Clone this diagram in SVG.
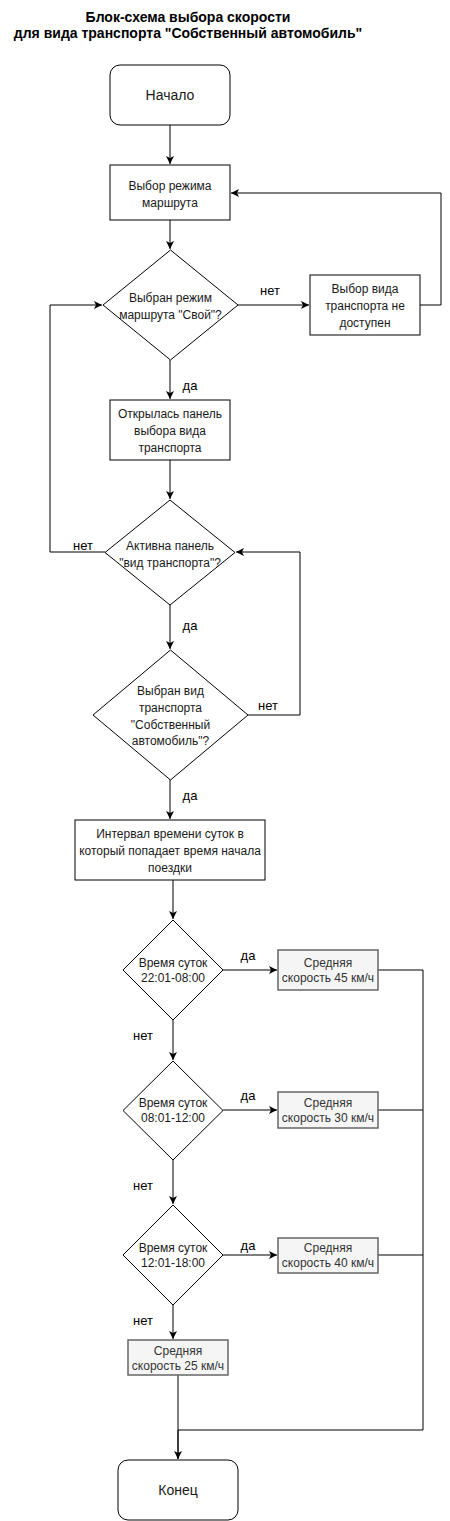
<svg xmlns="http://www.w3.org/2000/svg" width="450" height="1521" viewBox="0 0 450 1521">
<style>
.n{fill:#fff;stroke:#000;stroke-width:1}
.g{fill:#f5f5f5;stroke:#666;stroke-width:1.5}
.t{font-family:"Liberation Sans",Arial,sans-serif;font-size:12px;fill:#1a1a1a;text-anchor:middle}
.tg{font-family:"Liberation Sans",Arial,sans-serif;font-size:12px;fill:#333;text-anchor:middle}
.big{font-family:"Liberation Sans",Arial,sans-serif;font-size:14px;fill:#1a1a1a;text-anchor:middle}
.lb{font-family:"Liberation Sans",Arial,sans-serif;font-size:13px;fill:#000;text-anchor:middle}
.title{font-family:"Liberation Sans",Arial,sans-serif;font-size:14px;font-weight:bold;fill:#000;text-anchor:middle}
.c{fill:none;stroke:#000;stroke-width:1}
</style>
<defs>
<marker id="a" markerWidth="10" markerHeight="10" refX="8" refY="4" orient="auto" markerUnits="userSpaceOnUse">
<path d="M0,0 L8,4 L0,8 L2,4 Z" fill="#000"/>
</marker>
</defs>
<g id="title">
<text class="title" x="188" y="22">Блок-схема выбора скорости</text>
<text class="title" x="188" y="38">для вида транспорта "Собственный автомобиль"</text>
</g>
<g id="connectors">
<path class="c" d="M170,125 V164" marker-end="url(#a)"/>
<path class="c" d="M170,220 V249" marker-end="url(#a)"/>
<path class="c" d="M238,305 H309" marker-end="url(#a)"/>
<path class="c" d="M420,305 H441 V193 H231" marker-end="url(#a)"/>
<path class="c" d="M170,360 V399" marker-end="url(#a)"/>
<path class="c" d="M170,460 V499" marker-end="url(#a)"/>
<path class="c" d="M105,552 H50 V305 H102" marker-end="url(#a)"/>
<path class="c" d="M170,605 V649" marker-end="url(#a)"/>
<path class="c" d="M248,715 H300 V552 H236" marker-end="url(#a)"/>
<path class="c" d="M170,779 V819" marker-end="url(#a)"/>
<path class="c" d="M173,880 V919" marker-end="url(#a)"/>
<path class="c" d="M223,970 H277" marker-end="url(#a)"/>
<path class="c" d="M173,1020 V1060" marker-end="url(#a)"/>
<path class="c" d="M223,1110 H277" marker-end="url(#a)"/>
<path class="c" d="M173,1160 V1204" marker-end="url(#a)"/>
<path class="c" d="M223,1255 H277" marker-end="url(#a)"/>
<path class="c" d="M173,1305 V1339" marker-end="url(#a)"/>
<path class="c" d="M378,970 H423 V1430 H178"/>
<path class="c" d="M378,1110 H423"/>
<path class="c" d="M378,1255 H423"/>
<path class="c" d="M178,1375 V1459" marker-end="url(#a)"/>
<path class="c" d="M178,1430 V1459" stroke-width="1.5"/>
<text class="lb" x="270" y="295">нет</text>
<text class="lb" x="190" y="390">да</text>
<text class="lb" x="83" y="550">нет</text>
<text class="lb" x="190" y="630">да</text>
<text class="lb" x="268" y="710">нет</text>
<text class="lb" x="190" y="800">да</text>
<text class="lb" x="248" y="960">да</text>
<text class="lb" x="143" y="1040">нет</text>
<text class="lb" x="248" y="1100">да</text>
<text class="lb" x="143" y="1190">нет</text>
<text class="lb" x="248" y="1250">да</text>
<text class="lb" x="143" y="1325">нет</text>
</g>
<g id="start">
<rect class="n" x="110" y="65" width="120" height="60" rx="10"/>
<text class="big" x="170" y="100">Начало</text>
</g>
<g id="mode">
<rect class="n" x="110" y="165" width="120" height="55"/>
<text class="t" x="170" y="190">Выбор режима</text>
<text class="t" x="170" y="207">маршрута</text>
</g>
<g id="d1">
<polygon class="n" points="170.5,250 238,305 170.5,360 103,305"/>
<text class="t" x="170.5" y="302">Выбран режим</text>
<text class="t" x="170.5" y="319">маршрута "Свой"?</text>
</g>
<g id="na">
<rect class="n" x="310" y="275" width="110" height="60"/>
<text class="t" x="365" y="293">Выбор вида</text>
<text class="t" x="365" y="310">транспорта не</text>
<text class="t" x="365" y="327">доступен</text>
</g>
<g id="panel">
<rect class="n" x="110" y="400" width="120" height="60"/>
<text class="t" x="170" y="418">Открылась панель</text>
<text class="t" x="170" y="435">выбора вида</text>
<text class="t" x="170" y="452">транспорта</text>
</g>
<g id="d2">
<polygon class="n" points="170,500 235,552.5 170,605 105,552.5"/>
<text class="t" x="170" y="550">Активна панель</text>
<text class="t" x="170" y="567">"вид транспорта"?</text>
</g>
<g id="d3">
<polygon class="n" points="170.5,650 248,715 170.5,780 93,715"/>
<text class="t" x="170.5" y="695">Выбран вид</text>
<text class="t" x="170.5" y="712">транспорта</text>
<text class="t" x="170.5" y="729">"Собственный</text>
<text class="t" x="170.5" y="745">автомобиль"?</text>
</g>
<g id="interval">
<rect class="n" x="75" y="820" width="190" height="60"/>
<text class="t" x="170" y="838">Интервал времени суток в</text>
<text class="t" x="170" y="855">который попадает время начала</text>
<text class="t" x="170" y="872">поездки</text>
</g>
<g id="d4">
<polygon class="n" points="173,920 223,970 173,1020 123,970"/>
<text class="t" x="173" y="967">Время суток</text>
<text class="t" x="173" y="982">22:01-08:00</text>
</g>
<g id="s45">
<rect class="g" x="278" y="950" width="100" height="40"/>
<text class="tg" x="328" y="967">Средняя</text>
<text class="tg" x="328" y="982">скорость 45 км/ч</text>
</g>
<g id="d5">
<polygon class="n" points="173,1061 223,1110.5 173,1160 123,1110.5"/>
<text class="t" x="173" y="1107">Время суток</text>
<text class="t" x="173" y="1122">08:01-12:00</text>
</g>
<g id="s30">
<rect class="g" x="278" y="1092" width="100" height="36"/>
<text class="tg" x="328" y="1107">Средняя</text>
<text class="tg" x="328" y="1122">скорость 30 км/ч</text>
</g>
<g id="d6">
<polygon class="n" points="173,1205 223,1255 173,1305 123,1255"/>
<text class="t" x="173" y="1252">Время суток</text>
<text class="t" x="173" y="1267">12:01-18:00</text>
</g>
<g id="s40">
<rect class="g" x="278" y="1238" width="100" height="35"/>
<text class="tg" x="328" y="1252">Средняя</text>
<text class="tg" x="328" y="1267">скорость 40 км/ч</text>
</g>
<g id="s25">
<rect class="g" x="128" y="1340" width="100" height="35"/>
<text class="tg" x="178" y="1355">Средняя</text>
<text class="tg" x="178" y="1370">скорость 25 км/ч</text>
</g>
<g id="end">
<rect class="n" x="118" y="1460" width="120" height="60" rx="10"/>
<text class="big" x="178" y="1495">Конец</text>
</g>
</svg>
